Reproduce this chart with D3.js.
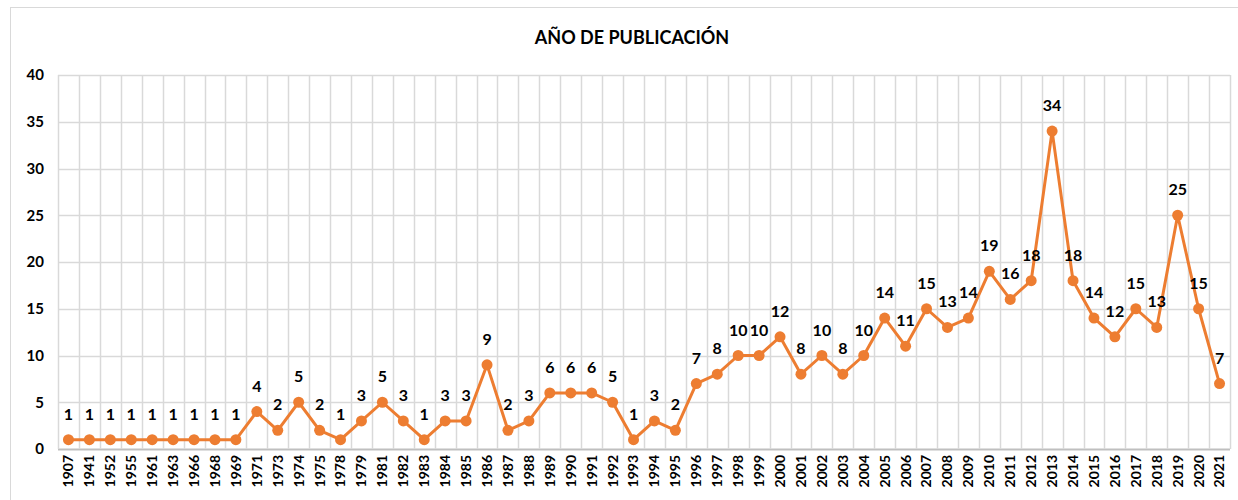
<!DOCTYPE html>
<html lang="es">
	<head>
		<meta charset="utf-8">
		<title>Año de publicación</title>
		<script type="text/javascript" src="https://cdn.jsdelivr.net/npm/d3@7"></script>
		<style type="text/css">
			body{
				margin: 0;
				background: #fff;
			}
			text{
				font-family: Lato, "Liberation Sans", sans-serif;
				font-weight: bold;
				fill: #000;
			}
		</style>
	</head>
	<body>
	<script type="text/javascript">

			//Width and height
			var w = 1238;
			var h = 500;
			var margin = {top: 75, right: 8, bottom: 51, left: 58};

			//Data
			var years = ["1907","1941","1952","1955","1961","1963","1966","1968","1969","1971",
						 "1973","1974","1975","1978","1979","1981","1982","1983","1984","1985",
						 "1986","1987","1988","1989","1990","1991","1992","1993","1994","1995",
						 "1996","1997","1998","1999","2000","2001","2002","2003","2004","2005",
						 "2006","2007","2008","2009","2010","2011","2012","2013","2014","2015",
						 "2016","2017","2018","2019","2020","2021"];
			var counts = [1,1,1,1,1,1,1,1,1,4,
						  2,5,2,1,3,5,3,1,3,3,
						  9,2,3,6,6,6,5,1,3,2,
						  7,8,10,10,12,8,10,8,10,14,
						  11,15,13,14,19,16,18,34,18,14,
						  12,15,13,25,15,7];
			var yTicks = [0,5,10,15,20,25,30,35,40];
			var title = "AÑO DE PUBLICACIÓN";

			var dataset = years.map(function(y, i) { return {year: y, value: counts[i]}; });

			//Scales
			var xScale = d3.scaleBand()
						   .domain(years)
						   .range([margin.left, w - margin.right])
						   .padding(0);

			var yScale = d3.scaleLinear()
						   .domain([0, 40])
						   .range([h - margin.bottom, margin.top]);

			var svg = d3.select("body")
						.append("svg")
						.attr("width", w)
						.attr("height", h);

			//Outer frame
			svg.append("rect")
			   .attr("x", 10.5)
			   .attr("y", 7.5)
			   .attr("width", w - 10)
			   .attr("height", h)
			   .attr("fill", "none")
			   .attr("stroke", "#d9d9d9");

			//Title
			svg.append("text")
			   .attr("x", 632)
			   .attr("y", 44)
			   .attr("text-anchor", "middle")
			   .attr("font-size", "18px")
			   .text(title);

			//Horizontal gridlines
			svg.append("g")
			   .selectAll("line")
			   .data(yTicks)
			   .enter()
			   .append("line")
			   .attr("x1", margin.left)
			   .attr("x2", w - margin.right)
			   .attr("y1", function(d) { return Math.round(yScale(d)) + 0.5; })
			   .attr("y2", function(d) { return Math.round(yScale(d)) + 0.5; })
			   .attr("stroke", function(d) { return d === 0 ? "#bfbfbf" : "#d9d9d9"; })
			   .attr("stroke-width", function(d) { return d === 0 ? 2 : 1.5; });

			//Vertical gridlines at category edges
			var edges = years.map(function(y) { return xScale(y); }).concat([w - margin.right]);
			svg.append("g")
			   .selectAll("line")
			   .data(edges)
			   .enter()
			   .append("line")
			   .attr("x1", function(d) { return Math.round(d) + 0.5; })
			   .attr("x2", function(d) { return Math.round(d) + 0.5; })
			   .attr("y1", yScale(40))
			   .attr("y2", yScale(0))
			   .attr("stroke", "#d9d9d9")
			   .attr("stroke-width", 1.5);

			//Y axis labels
			var yAxis = d3.axisLeft(yScale)
						  .tickValues(yTicks)
						  .tickSize(0)
						  .tickPadding(14);
			var gy = svg.append("g")
						.attr("transform", "translate(" + margin.left + ",0)")
						.call(yAxis);
			gy.select(".domain").remove();
			gy.selectAll("text")
			  .attr("font-size", "15px")
			  .style("font-family", "Lato, 'Liberation Sans', sans-serif")
			  .style("font-weight", "bold");

			//X axis labels (rotated)
			var xAxis = d3.axisBottom(xScale)
						  .tickSize(0);
			var gx = svg.append("g")
						.attr("transform", "translate(0," + yScale(0) + ")")
						.call(xAxis);
			gx.select(".domain").remove();
			gx.selectAll("text")
			  .attr("transform", "rotate(-90)")
			  .attr("x", -6)
			  .attr("y", 0)
			  .attr("dy", "0.35em")
			  .attr("text-anchor", "end")
			  .attr("font-size", "14px")
			  .style("font-family", "Lato, 'Liberation Sans', sans-serif")
			  .style("font-weight", "bold");

			var cx = function(d) { return xScale(d.year) + xScale.bandwidth() / 2; };

			//Line
			var line = d3.line()
						 .x(cx)
						 .y(function(d) { return yScale(d.value); });

			svg.append("path")
			   .datum(dataset)
			   .attr("d", line)
			   .attr("fill", "none")
			   .attr("stroke", "#ed7d31")
			   .attr("stroke-width", 3)
			   .attr("stroke-linejoin", "round");

			//Markers
			svg.selectAll("circle")
			   .data(dataset)
			   .enter()
			   .append("circle")
			   .attr("cx", cx)
			   .attr("cy", function(d) { return yScale(d.value); })
			   .attr("r", 5.5)
			   .attr("fill", "#ed7d31");

			//Data labels
			svg.append("g")
			   .selectAll("text")
			   .data(dataset)
			   .enter()
			   .append("text")
			   .text(function(d) { return d.value; })
			   .attr("x", cx)
			   .attr("y", function(d) { return yScale(d.value) - 20; })
			   .attr("text-anchor", "middle")
			   .attr("font-size", "16px");

		</script>
	</body>
</html>
